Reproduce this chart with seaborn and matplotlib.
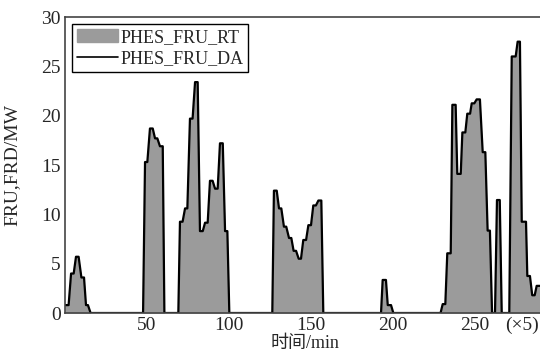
import matplotlib
matplotlib.use('Agg')
import matplotlib.pyplot as plt
import matplotlib.transforms as mtransforms
from matplotlib.patches import Patch
from matplotlib.lines import Line2D
import seaborn as sns

# 数据 (x 单位: 5 min)
time_step = [0, 2.2, 3.7, 5.3, 6.7, 8.3, 10.0, 11.6, 12.8, 14.0, 15.6,
             47.6, 48.8, 50.2, 51.8, 53.5, 54.9, 56.3, 57.9, 59.6, 60.6,
             69.1, 70.1, 71.7, 73.2, 74.6, 76.2, 77.8, 79.3, 80.9, 82.3, 84.0,
             85.4, 87.0, 88.4, 90.0, 91.5, 93.1, 94.5, 96.2, 97.6, 99.0, 100.2,
             126.4, 127.4, 129.1, 130.5, 131.9, 133.5, 134.9, 136.6, 138.0,
             139.4, 140.9, 142.5, 143.9, 145.3, 147.0, 148.4, 150.0, 151.4,
             153.0, 154.5, 156.3, 157.5,
             192.7, 193.7, 195.7, 196.8, 198.8, 200.2,
             229.0, 230.3, 231.9, 233.1, 235.2, 236.2, 238.2, 239.2, 241.3,
             242.3, 244.1, 245.3, 247.0, 248.0, 249.6, 251.0, 253.0, 254.7,
             256.3, 257.7, 259.1, 260.4, 262.2, 263.4, 265.1, 266.3,
             270.9, 272.4, 274.8, 276.0, 277.4, 278.5, 281.1, 281.9, 283.5,
             284.9, 286.4, 287.6, 290.0]
fru_mw = [0.8, 0.8, 4.0, 4.0, 5.7, 5.7, 3.6, 3.6, 0.8, 0.8, 0,
          0, 15.3, 15.3, 18.7, 18.7, 17.7, 17.7, 16.9, 16.9, 0,
          0, 9.25, 9.25, 10.6, 10.6, 19.7, 19.7, 23.4, 23.4, 8.3, 8.3,
          9.15, 9.15, 13.4, 13.4, 12.6, 12.6, 17.2, 17.2, 8.3, 8.3, 0,
          0, 12.4, 12.4, 10.6, 10.6, 8.75, 8.75, 7.6, 7.6,
          6.3, 6.3, 5.5, 5.5, 7.4, 7.4, 8.9, 8.9, 10.9,
          10.9, 11.4, 11.4, 0,
          0, 3.35, 3.35, 0.8, 0.8, 0,
          0, 0.9, 0.9, 6.05, 6.05, 21.1, 21.1, 14.1, 14.1,
          18.3, 18.3, 20.2, 20.2, 21.25, 21.25, 21.65, 21.65, 16.3,
          16.3, 8.35, 8.35, 0, 0, 11.45, 11.45, 0,
          0, 26.0, 26.0, 27.5, 27.5, 9.25, 9.25, 3.75, 3.75,
          1.8, 1.8, 2.75, 2.75]
x_ticks = [50, 100, 150, 200, 250]
y_ticks = [0, 5, 10, 15, 20, 25, 30]
legend_labels = ['PHES_FRU_RT', 'PHES_FRU_DA']

sns.set_style('white')
plt.rcParams['font.family'] = ['Liberation Serif', 'Noto Sans CJK SC']

fig = plt.figure(figsize=(5.4, 3.53), dpi=100)
ax = fig.add_axes([65 / 540, 40 / 353, 492 / 540, 296 / 353])

# RT 填充 + DA 折线
ax.fill_between(time_step, fru_mw, 0, color='#9b9b9b', linewidth=0)
sns.lineplot(x=time_step, y=fru_mw, color='black', linewidth=1.6,
             estimator=None, sort=False, ax=ax)

ax.set_xlim(0, 300)
ax.set_ylim(0, 30)
ax.set_xticks(x_ticks)
ax.set_yticks(y_ticks)
ax.tick_params(direction='in', length=3, width=0.8, color='#444444',
               labelsize=14, pad=3)
for s in ax.spines.values():
    s.set_color('#444444')
    s.set_linewidth(1.2)

ax.set_ylabel('FRU,FRD/MW', fontsize=14)
ax.yaxis.set_label_coords(-0.09, 0.5)
ax.set_xlabel('时间/min', fontsize=13)
ax.xaxis.set_label_coords((305 - 65) / 492, -0.074)

trans = mtransforms.blended_transform_factory(ax.transData, ax.transAxes)
ax.text(278.5, -0.012, '(×5)', transform=trans, ha='center', va='top',
        fontsize=14)

handles = [Patch(facecolor='#9b9b9b', edgecolor='#9b9b9b'),
           Line2D([], [], color='black', linewidth=1.2)]
leg = ax.legend(handles, legend_labels, loc='upper left',
                bbox_to_anchor=(0.015, 0.975), fancybox=False,
                edgecolor='black', framealpha=1, fontsize=13,
                handlelength=2.3, handletextpad=0.1, borderpad=0.25,
                labelspacing=0.25, borderaxespad=0)
leg.get_frame().set_linewidth(1.0)

fig.savefig('out.png', dpi=100)
